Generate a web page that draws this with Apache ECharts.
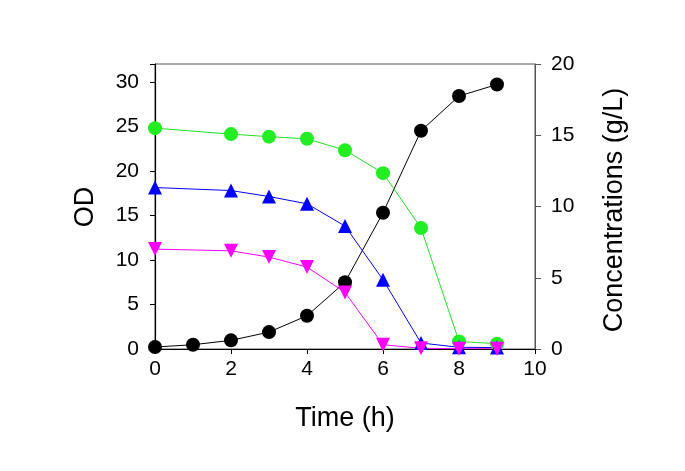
<!DOCTYPE html>
<html><head><meta charset="utf-8">
<script src="https://cdn.jsdelivr.net/npm/echarts@6/dist/echarts.min.js"></script>
<style>html,body{margin:0;padding:0;background:#fff;}#c{width:685px;height:471px;}</style>
</head><body><div id="c"></div>
<script>
const time = [0,1,2,3,4,5,6,7,8,9];
const odBlack = [0.22,0.48,0.97,1.9,3.73,7.5,15.3,24.5,28.4,29.7];
const greenTime = [0,2,3,4,5,6,7,8,9];
const green = [15.5,15.08,14.9,14.75,13.95,12.34,8.49,0.53,0.37];
const blueTime = [0,2,3,4,5,6,7,8,9];
const blue = [11.33,11.12,10.7,10.19,8.63,4.86,0.42,0.12,0.1];
const magentaTime = [0,2,3,4,5,6,7,8,9];
const magenta = [7.01,6.89,6.45,5.75,3.97,0.3,0.05,0.02,0.02];
const xTicks = [0,2,4,6,8,10];

const pair = (xs, ys) => xs.map((x,i)=>[x,ys[i]]);
const font = 'Liberation Sans, Arial, sans-serif';
const chart = echarts.init(document.getElementById('c'));
chart.setOption({
  animation:false,
  grid:{left:155,right:150,top:64,bottom:122,show:true,borderColor:'#555',borderWidth:1},
  xAxis:{type:'value',min:0,max:10,interval:2,
    axisLine:{lineStyle:{color:'#000',width:1.2}},
    axisTick:{inside:false,length:5,lineStyle:{color:'#000'}},
    axisLabel:{color:'#000',fontSize:21,fontFamily:font,margin:10},
    splitLine:{show:false}},
  yAxis:[
    {type:'value',min:0,max:32,interval:5,position:'left',
      axisLine:{show:true,lineStyle:{color:'#000',width:1.2}},
      axisTick:{show:true,length:5,lineStyle:{color:'#000'}},
      axisLabel:{color:'#000',fontSize:21,fontFamily:font,margin:16,
        formatter:v=> v>30 ? '' : v},
      splitLine:{show:false}},
    {type:'value',min:0,max:20,interval:5,position:'right',
      axisLine:{show:true,lineStyle:{color:'#555',width:1}},
      axisTick:{show:true,length:6,lineStyle:{color:'#555'}},
      axisLabel:{color:'#000',fontSize:21,fontFamily:font,margin:16},
      splitLine:{show:false}}
  ],
  series:[
    {type:'line',yAxisIndex:0,data:pair(time,odBlack),symbol:'circle',symbolSize:14,
      lineStyle:{color:'#000',width:1},itemStyle:{color:'#000'}},
    {type:'line',yAxisIndex:1,data:pair(greenTime,green),symbol:'circle',symbolSize:14,
      lineStyle:{color:'#22e022',width:1},itemStyle:{color:'#22ee22'}},
    {type:'line',yAxisIndex:1,data:pair(blueTime,blue),symbol:'triangle',symbolSize:14,
      lineStyle:{color:'#0000ff',width:1},itemStyle:{color:'#0000ff'}},
    {type:'line',yAxisIndex:1,data:pair(magentaTime,magenta),symbol:'triangle',symbolRotate:180,symbolSize:14,
      lineStyle:{color:'#ff00ff',width:1},itemStyle:{color:'#ff00ff'}}
  ],
  graphic:[
    {type:'text',x:86,y:207,rotation:Math.PI/2,style:{text:'OD',fontSize:27,fontFamily:font,fill:'#000',align:'center',verticalAlign:'middle'}},
    {type:'text',x:615,y:210,rotation:Math.PI/2,style:{text:'Concentrations (g/L)',fontSize:27,fontFamily:font,fill:'#000',align:'center',verticalAlign:'middle'}},
    {type:'text',x:345,y:419,style:{text:'Time (h)',fontSize:27,fontFamily:font,fill:'#000',align:'center',verticalAlign:'middle'}}
  ]
});
</script></body></html>
